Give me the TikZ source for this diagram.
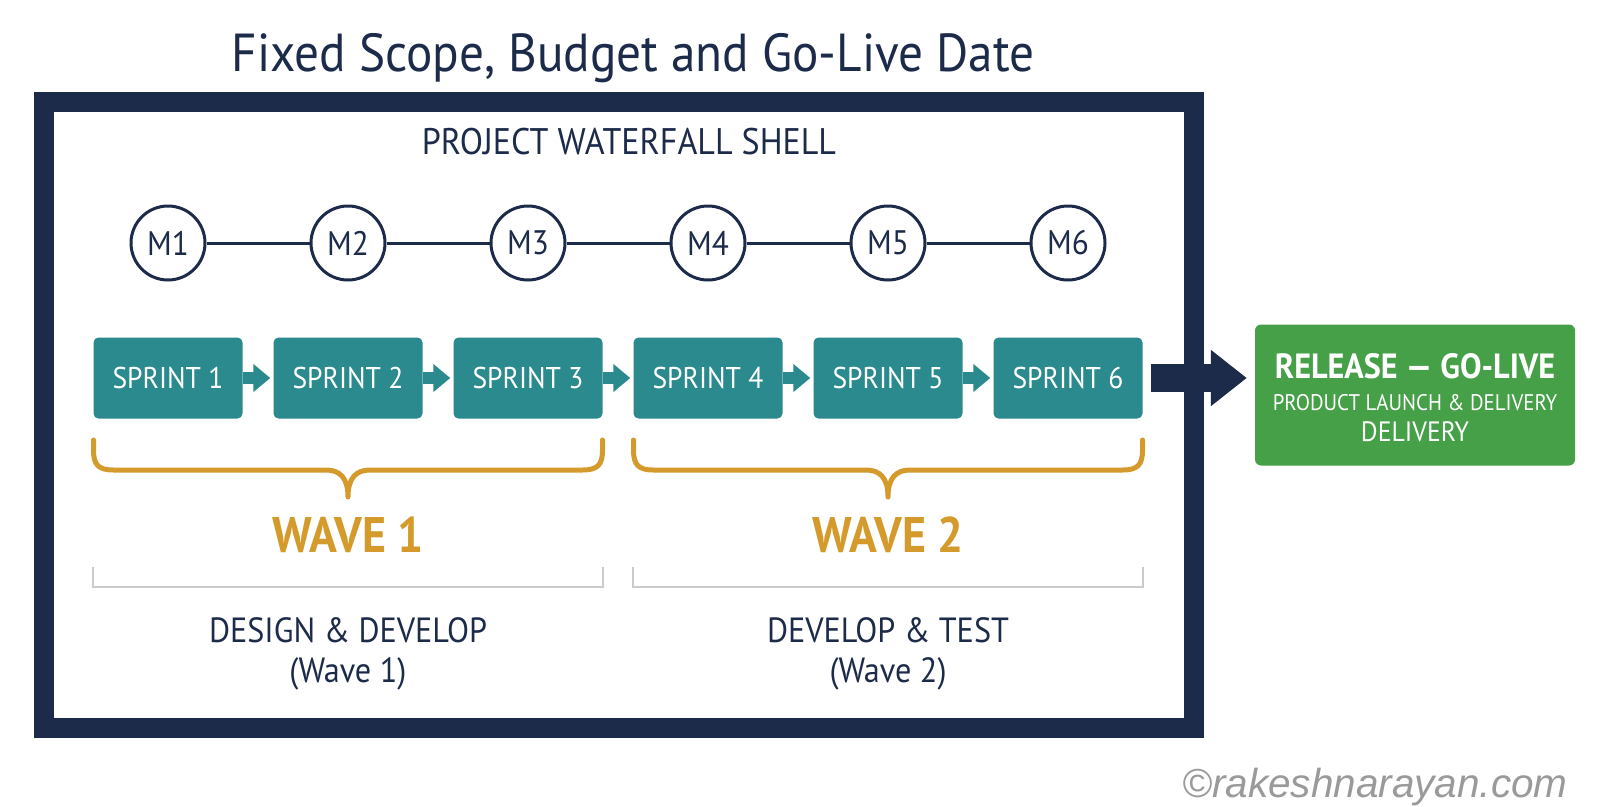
\documentclass[tikz,border=0pt]{standalone}
\usepackage{fontspec}
\setmainfont{PT Sans}[FakeStretch=0.92]
\newfontfamily\creditfont{Liberation Sans}
\usepackage{tikz}
\usetikzlibrary{shapes,arrows,arrows.meta}
\usetikzlibrary{shapes.geometric}
\usetikzlibrary{fit,backgrounds,positioning}

\definecolor{shellblue}{HTML}{1D2B4B}
\definecolor{sprintteal}{HTML}{2A8A8D}
\definecolor{releasegreen}{HTML}{45A047}
\definecolor{wavegold}{HTML}{D59A2C}
\definecolor{rulegray}{HTML}{C9CBCE}
\definecolor{creditgray}{HTML}{9A9A9A}

\tikzstyle{milestone} = [circle, draw=shellblue, line width=3pt, fill=white,
minimum size=74pt, inner sep=0pt, text=shellblue, font=\fontsize{34}{34}\selectfont]
\tikzstyle{sprint} = [rectangle, fill=sprintteal, text=white, rounded corners=5pt,
minimum width=149pt, minimum height=81pt, font=\fontsize{30}{30}\selectfont]
\tikzstyle{release} = [rectangle, fill=releasegreen, rounded corners=6pt,
minimum width=320pt, minimum height=141pt]
\tikzstyle{link} = [draw=shellblue, line width=3pt]
\tikzstyle{line} = [draw=sprintteal, line width=12pt, shorten >=3pt,
-{Triangle[length=17pt,width=27pt]}]
\tikzstyle{bigline} = [draw=shellblue, line width=28pt, shorten <=8pt, shorten >=8pt,
-{Triangle[length=36pt,width=54pt]}]
\tikzstyle{wave} = [draw=wavegold, line width=5pt, line cap=round, line join=round]
\tikzstyle{bracket} = [draw=rulegray, line width=2pt]
\tikzstyle{wavetext} = [text=wavegold, font=\bfseries\fontsize{50}{50}\selectfont]
\tikzstyle{phase} = [text=shellblue, align=center, font=\fontsize{35}{40}\selectfont]

\begin{document}
\begin{tikzpicture}[x=1pt, y=-1pt]
\useasboundingbox [fill=white] (0,0) rectangle (1600,806);

% Shell frame and titles
\draw [shellblue, line width=20pt] (44,102) rectangle (1194,728);
\node [text=shellblue, font=\fontsize{53.5}{54}\selectfont] (title) at (633,58)
  {Fixed Scope, Budget and Go-Live Date};
\node [text=shellblue, font=\fontsize{37}{37}\selectfont] (shell) at (629,142)
  {PROJECT WATERFALL SHELL};

% Milestones
\node [milestone] (m1) at (168,243) {M1};
\node [milestone, right of=m1, node distance=180pt] (m2) {M2};
\node [milestone, right of=m2, node distance=180pt] (m3) {M3};
\node [milestone, right of=m3, node distance=180pt] (m4) {M4};
\node [milestone, right of=m4, node distance=180pt] (m5) {M5};
\node [milestone, right of=m5, node distance=180pt] (m6) {M6};

% Sprints
\node [sprint, below of=m1, node distance=135pt] (s1) {SPRINT 1};
\node [sprint, below of=m2, node distance=135pt] (s2) {SPRINT 2};
\node [sprint, below of=m3, node distance=135pt] (s3) {SPRINT 3};
\node [sprint, below of=m4, node distance=135pt] (s4) {SPRINT 4};
\node [sprint, below of=m5, node distance=135pt] (s5) {SPRINT 5};
\node [sprint, below of=m6, node distance=135pt] (s6) {SPRINT 6};

% Release
\node [release] (rel) at (1415,395) {};
\node [text=white, font=\bfseries\fontsize{35}{35}\selectfont] (relhead)
  at ([yshift=29pt]rel.center) {RELEASE — GO-LIVE};
\node [text=white, font=\fontsize{22.6}{23}\selectfont] (relsub)
  at ([yshift=-8pt]rel.center) {PRODUCT LAUNCH \& DELIVERY};
\node [text=white, font=\fontsize{28}{28}\selectfont] (reldel)
  at ([yshift=-37pt]rel.center) {DELIVERY};

% Waves
\node [wavetext, below of=s2, node distance=157pt] (w1) {WAVE 1};
\node [wavetext, below of=s5, node distance=157pt] (w2) {WAVE 2};
\node [phase, below of=w1, node distance=119pt] (p1) {DESIGN \& DEVELOP\\(Wave 1)};
\node [phase, below of=w2, node distance=119pt] (p2) {DEVELOP \& TEST\\(Wave 2)};

\node [text=creditgray, font=\creditfont\itshape\fontsize{40.5}{41}\selectfont] (credit)
  at (1375,787) {©rakeshnarayan.com};

% Draw edges
\foreach \a/\b in {m1/m2,m2/m3,m3/m4,m4/m5,m5/m6}
  \path [link] (\a) -- (\b);
\foreach \a/\b in {s1/s2,s2/s3,s3/s4,s4/s5,s5/s6}
  \path [line] (\a) -- (\b);
\path [bigline] (s6.east) -- (s6.east -| rel.west);

% Braces and brackets
\foreach \l/\c/\r in {93.5/348/602.5, 633.5/888/1142.5}{
  \draw [wave] (\l,440) -- (\l,450) .. controls (\l,465) and (\l+5,470) .. (\l+20,470)
    -- (\c-22,470) .. controls (\c-8,470) and (\c,478) .. (\c,497)
    .. controls (\c,478) and (\c+8,470) .. (\c+22,470)
    -- (\r-20,470) .. controls (\r-5,470) and (\r,465) .. (\r,450) -- (\r,440);
}
\draw [bracket] (s1.west |- 0,567) |- (s3.east |- 0,587) -- (s3.east |- 0,567);
\draw [bracket] (s4.west |- 0,567) |- (s6.east |- 0,587) -- (s6.east |- 0,567);
\end{tikzpicture}
\end{document}
